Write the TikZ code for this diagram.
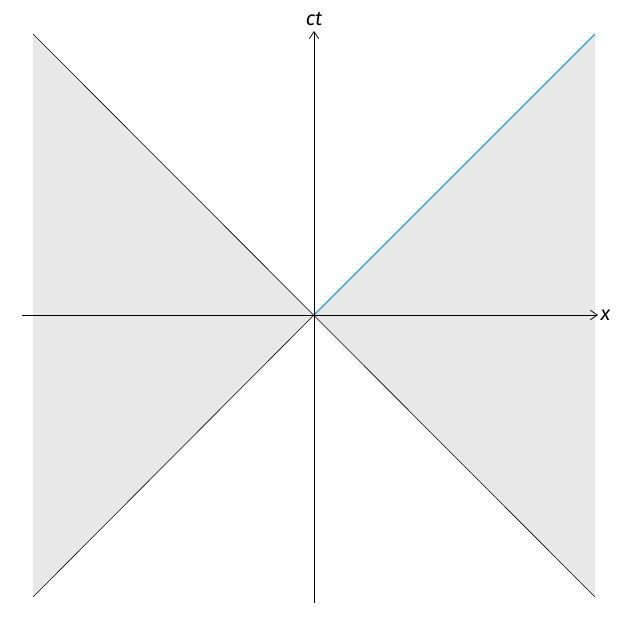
\documentclass[tikz,border=0pt]{standalone}
\usepackage{fontspec}
\setmainfont{Fira Sans}
\usetikzlibrary{positioning, calc, arrows.meta}
\definecolor{conegray}{RGB}{232,232,232}
\definecolor{lightblue}{RGB}{38,160,218}

\begin{document}
\begin{tikzpicture}[
		x=0.03cm, y=0.03cm,
		region/.style={fill=conegray, draw=none},
		lightline/.style={draw=black, line width=0.5pt},
		photon/.style={draw=lightblue, line width=1.1pt},
		axis/.style={->, >={Straight Barb[length=6pt,width=8pt]}, line width=0.6pt},
		axislabel/.style={font=\fontsize{17}{19}\selectfont\itshape, inner sep=1pt}
		]
		% Frame
		\useasboundingbox (-314,-312) rectangle (313,315);
		
		% Corners of the diagram
		\coordinate (o) at (0,0);
		\coordinate (tl) at (-281,281);
		\coordinate (bl) at (-281,-282);
		\coordinate (tr) at (281,281);
		\coordinate (br) at (281,-282);
		
		% Space-like regions
		\fill[region] (o) -- (tl) -- (bl) -- cycle;
		\fill[region] (o) -- (tr) -- (br) -- cycle;
		
		% Light cone
		\draw[lightline] (tl) -- (br);
		\draw[lightline] (bl) -- (o);
		\draw[photon] (o) -- (tr);
		
		% Axes
		\coordinate (xstart) at (-292,0);
		\coordinate (xend) at (284,0);
		\coordinate (tstart) at (0,-288);
		\coordinate (tend) at (0,284);
		\draw[axis] (xstart) -- (xend);
		\draw[axis] (tstart) -- (tend);
		\node[axislabel, right=1pt of xend] (xlabel) {x};
		\node[axislabel, above=3pt of tend] (tlabel) {ct};
	\end{tikzpicture}
\end{document}
